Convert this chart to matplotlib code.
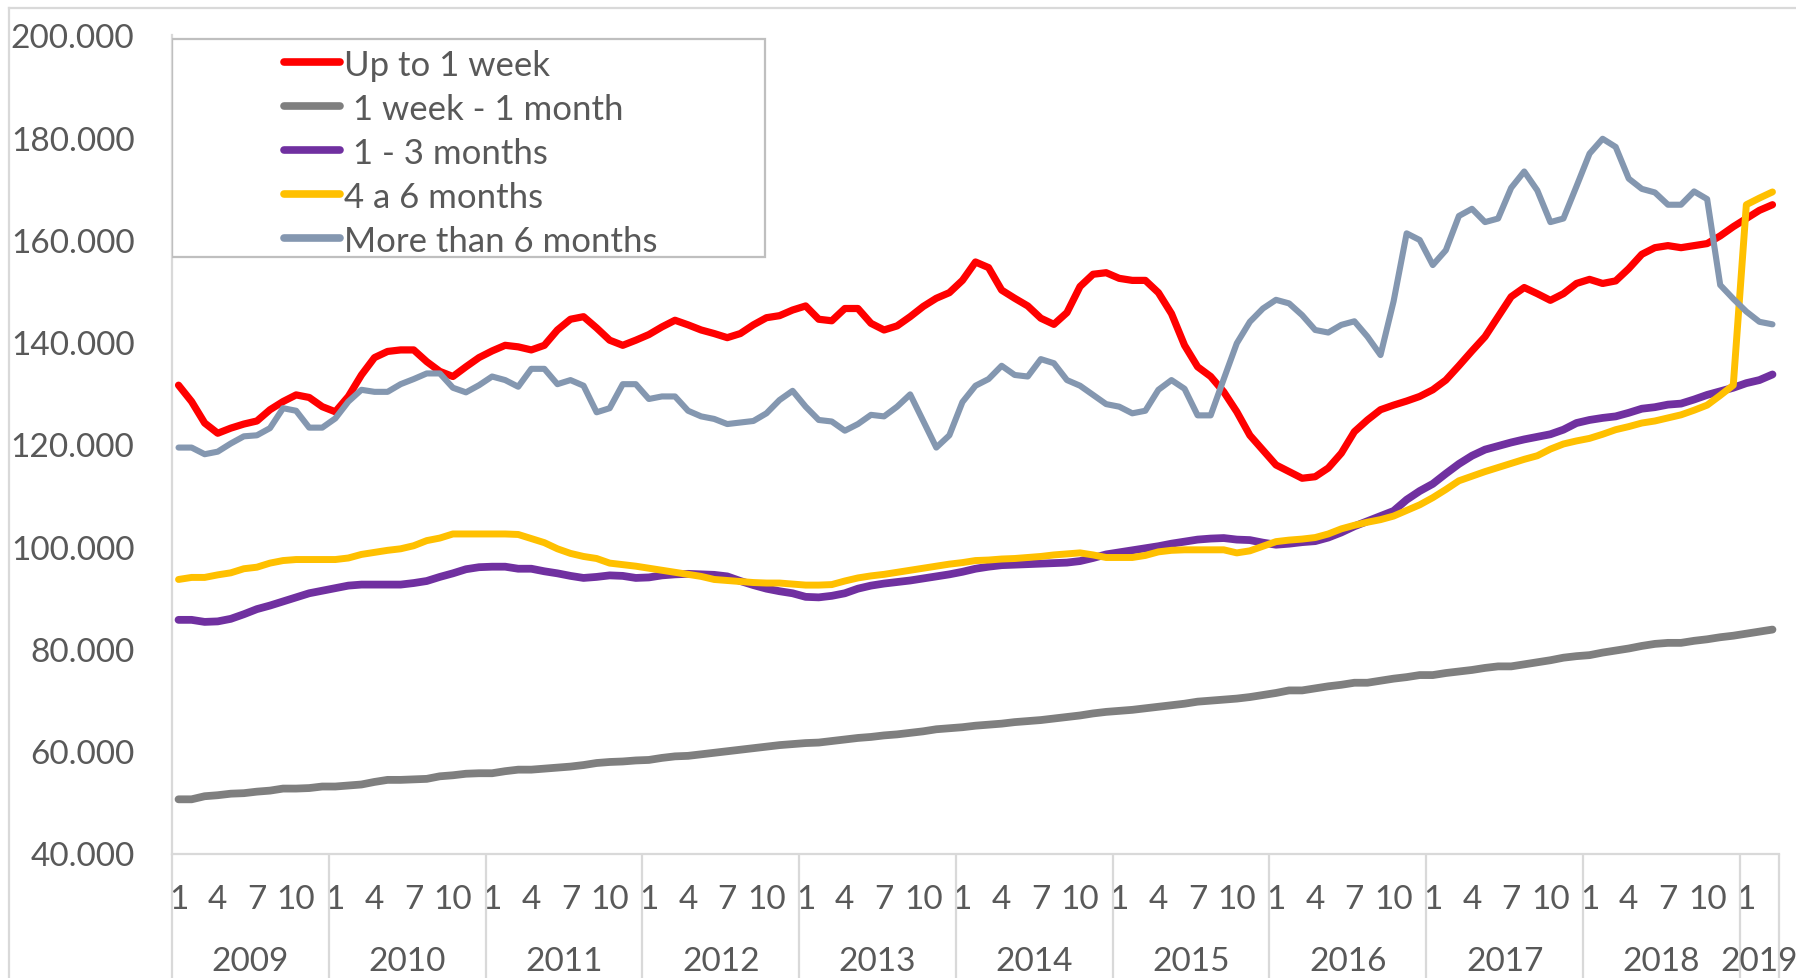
import numpy as np
import matplotlib.pyplot as plt
from matplotlib.patches import Rectangle
from matplotlib.lines import Line2D

plt.rcParams['font.family'] = ['Lato', 'DejaVu Sans']

# monthly series, 2009-01 .. 2019-03, values in thousands
years = ['2009', '2010', '2011', '2012', '2013', '2014', '2015', '2016', '2017', '2018', '2019']
months_per_year = [12, 12, 12, 12, 12, 12, 12, 12, 12, 12, 3]

up_to_1_week = [
    131.6, 128.4, 124.2, 122.2, 123.2, 124.0, 124.6, 126.8, 128.4, 129.7, 129.2, 127.4,
    126.4, 129.4, 133.6, 137.0, 138.2, 138.5, 138.5, 136.2, 134.3, 133.3, 135.2, 137.0,
    138.3, 139.4, 139.1, 138.5, 139.4, 142.4, 144.5, 145.0, 142.8, 140.4, 139.4, 140.4,
    141.5, 143.0, 144.3, 143.4, 142.4, 141.7, 140.9, 141.7, 143.4, 144.8, 145.2, 146.3,
    147.1, 144.5, 144.2, 146.6, 146.6, 143.7, 142.4, 143.2, 145.0, 147.0, 148.6, 149.7,
    152.1, 155.7, 154.6, 150.2, 148.6, 147.1, 144.7, 143.5, 145.8, 150.9, 153.3, 153.6,
    152.5, 152.1, 152.1, 149.7, 145.6, 139.4, 135.2, 133.3, 130.3, 126.4, 121.8, 118.9,
    116.0, 114.7, 113.4, 113.7, 115.4, 118.3, 122.5, 124.8, 126.8, 127.7, 128.5, 129.4,
    130.7, 132.6, 135.4, 138.3, 141.1, 145.0, 148.9, 150.7, 149.5, 148.2, 149.5, 151.5,
    152.3, 151.5, 152.0, 154.4, 157.2, 158.5, 158.9, 158.5, 158.9, 159.3, 160.8, 162.6,
    164.2, 165.8, 166.9,
]

week_to_month = [
    50.6, 50.6, 51.2, 51.4, 51.7, 51.8, 52.1, 52.3, 52.7, 52.7, 52.8, 53.1,
    53.1, 53.3, 53.5, 54.0, 54.4, 54.4, 54.5, 54.6, 55.1, 55.3, 55.6, 55.7,
    55.7, 56.1, 56.4, 56.4, 56.6, 56.8, 57.0, 57.3, 57.7, 57.9, 58.0, 58.2,
    58.3, 58.7, 59.0, 59.1, 59.4, 59.7, 60.0, 60.3, 60.6, 60.9, 61.2, 61.4,
    61.6, 61.7, 62.0, 62.3, 62.6, 62.8, 63.1, 63.3, 63.6, 63.9, 64.3, 64.5,
    64.7, 65.0, 65.2, 65.4, 65.7, 65.9, 66.1, 66.4, 66.7, 67.0, 67.4, 67.7,
    67.9, 68.1, 68.4, 68.7, 69.0, 69.3, 69.7, 69.9, 70.1, 70.3, 70.6, 71.0,
    71.4, 71.9, 71.9, 72.3, 72.7, 73.0, 73.4, 73.4, 73.8, 74.2, 74.5, 74.9,
    74.9, 75.3, 75.6, 75.9, 76.3, 76.6, 76.6, 77.0, 77.4, 77.8, 78.3, 78.6,
    78.8, 79.3, 79.7, 80.1, 80.6, 81.0, 81.2, 81.2, 81.6, 81.9, 82.3, 82.6,
    83.0, 83.4, 83.8,
]

one_to_three = [
    85.7, 85.7, 85.3, 85.4, 85.9, 86.8, 87.8, 88.5, 89.3, 90.1, 90.9, 91.4,
    91.9, 92.4, 92.6, 92.6, 92.6, 92.6, 92.9, 93.3, 94.1, 94.8, 95.6, 96.0,
    96.1, 96.1, 95.7, 95.7, 95.2, 94.8, 94.3, 93.9, 94.1, 94.4, 94.3, 93.9,
    94.0, 94.4, 94.6, 94.7, 94.6, 94.5, 94.2, 93.3, 92.5, 91.8, 91.3, 90.9,
    90.2, 90.1, 90.4, 90.9, 91.8, 92.4, 92.8, 93.1, 93.4, 93.8, 94.2, 94.6,
    95.1, 95.7, 96.1, 96.4, 96.5, 96.6, 96.7, 96.8, 96.9, 97.2, 97.8, 98.5,
    98.9, 99.3, 99.7, 100.1, 100.6, 101.0, 101.4, 101.6, 101.7, 101.4, 101.3, 100.8,
    100.4, 100.6, 100.9, 101.1, 101.8, 102.8, 104.0, 105.0, 106.0, 107.0, 109.2, 110.9,
    112.3, 114.3, 116.2, 117.8, 119.0, 119.7, 120.4, 121.0, 121.5, 122.0, 122.9, 124.2,
    124.8, 125.2, 125.5, 126.2, 127.0, 127.3, 127.8, 128.0, 128.8, 129.7, 130.4, 131.1,
    132.0, 132.6, 133.7,
]

four_to_six = [
    93.6, 94.0, 94.0, 94.5, 94.9, 95.7, 96.0, 96.8, 97.3, 97.5, 97.5, 97.5,
    97.5, 97.8, 98.5, 98.9, 99.3, 99.6, 100.2, 101.2, 101.7, 102.5, 102.5, 102.5,
    102.5, 102.5, 102.4, 101.6, 100.8, 99.6, 98.7, 98.1, 97.7, 96.8, 96.5, 96.2,
    95.8, 95.4, 95.0, 94.6, 94.2, 93.6, 93.4, 93.2, 93.0, 92.9, 92.9, 92.7,
    92.5, 92.5, 92.6, 93.3, 93.9, 94.3, 94.6, 95.0, 95.4, 95.8, 96.2, 96.6,
    96.9, 97.3, 97.4, 97.6, 97.7, 97.9, 98.1, 98.4, 98.6, 98.8, 98.4, 97.9,
    97.9, 97.9, 98.3, 99.0, 99.3, 99.4, 99.4, 99.4, 99.4, 98.8, 99.2, 100.1,
    101.0, 101.3, 101.5, 101.8, 102.5, 103.5, 104.2, 104.8, 105.3, 106.0, 107.1, 108.2,
    109.6, 111.2, 112.9, 113.8, 114.7, 115.5, 116.3, 117.1, 117.8, 119.1, 120.1, 120.7,
    121.2, 122.0, 122.9, 123.5, 124.2, 124.6, 125.2, 125.8, 126.7, 127.7, 129.6, 131.6,
    166.9, 168.2, 169.4,
]

more_than_six = [
    119.4, 119.4, 118.1, 118.6, 120.2, 121.6, 121.8, 123.2, 127.1, 126.6, 123.3, 123.3,
    125.1, 128.4, 130.7, 130.3, 130.3, 131.8, 132.8, 133.9, 133.9, 131.1, 130.2, 131.6,
    133.3, 132.6, 131.3, 134.8, 134.8, 131.8, 132.6, 131.5, 126.3, 127.1, 131.8, 131.8,
    128.9, 129.4, 129.4, 126.6, 125.5, 125.0, 124.0, 124.3, 124.6, 126.1, 128.7, 130.5,
    127.4, 124.8, 124.5, 122.7, 124.0, 125.8, 125.5, 127.4, 129.8, 124.6, 119.4, 121.8,
    128.3, 131.5, 132.8, 135.4, 133.6, 133.3, 136.7, 135.9, 132.6, 131.5, 129.7, 127.9,
    127.4, 126.1, 126.6, 130.7, 132.6, 130.9, 125.7, 125.7, 132.8, 139.8, 144.0, 146.6,
    148.3, 147.6, 145.3, 142.4, 141.9, 143.4, 144.1, 141.1, 137.5, 148.0, 161.3, 160.0,
    155.1, 158.0, 164.7, 166.1, 163.5, 164.2, 170.2, 173.4, 169.7, 163.5, 164.2, 170.5,
    176.9, 179.8, 178.2, 172.0, 170.0, 169.3, 166.9, 166.9, 169.5, 168.0, 151.2, 148.5,
    146.0, 144.0, 143.5,
]

labels = ['Up to 1 week', ' 1 week - 1 month', ' 1 - 3 months', '4 a 6 months', 'More than 6 months']
colors = ['#FF0000', '#7F7F7F', '#7030A0', '#FFC000', '#8497B0']
widths = [5.2, 5.6, 5.6, 5.0, 4.4]
series = [up_to_1_week, week_to_month, one_to_three, four_to_six, more_than_six]

txt = '#595959'
axis_col = '#D9D9D9'

fig = plt.figure(figsize=(17.96, 9.79), dpi=100)
ax = fig.add_axes([172 / 1796, 1 - 854.5 / 979, 1607 / 1796, 818 / 979])

n = len(up_to_1_week)
x = np.arange(n)
for vals, lab, c, w in zip(series, labels, colors, widths):
    ax.plot(x, vals, color=c, lw=w, label=lab, solid_joinstyle='round', solid_capstyle='round')

ax.set_xlim(-0.5, n - 0.5)
ax.set_ylim(40, 200)
ax.set_yticks(np.arange(40, 201, 20))
ax.set_yticklabels([f'{v:.3f}' for v in np.arange(40, 201, 20)])

# month ticks 1, 4, 7, 10
month_of = [m + 1 for cnt in months_per_year for m in range(cnt)]
tick_pos = [i for i in range(n) if month_of[i] in (1, 4, 7, 10)]
ax.set_xticks(tick_pos)
ax.set_xticklabels([str(month_of[i]) for i in tick_pos])
ax.tick_params(axis='both', length=0, labelsize=24, colors=txt)
ax.tick_params(axis='y', pad=27)
ax.tick_params(axis='x', pad=22)

for s in ['top', 'right']:
    ax.spines[s].set_visible(False)
for s in ['left', 'bottom']:
    ax.spines[s].set_color(axis_col)
    ax.spines[s].set_linewidth(1.6)

# year group labels and separators
start = 0
bounds = [0]
for yr, cnt in zip(years, months_per_year):
    ax.text(start + cnt / 2 - 0.5, -0.131, yr, transform=ax.get_xaxis_transform(),
            ha='center', va='center', fontsize=24, color=txt)
    start += cnt
    bounds.append(start)
ax.vlines([b - 0.5 for b in bounds], -0.17, 0, transform=ax.get_xaxis_transform(),
          colors=axis_col, lw=1.6, clip_on=False)

# legend with a wider box like the original
ax.add_patch(Rectangle((0, 0.729), 0.369, 0.2667, transform=ax.transAxes,
                       fill=False, ec='#BFBFBF', lw=1.6, zorder=5))
leg = ax.legend(loc='upper left', bbox_to_anchor=(0.0697, 0.984), frameon=False,
                fontsize=25, handlelength=1.6, handletextpad=0.12, labelspacing=0.345,
                borderpad=0, borderaxespad=0)
for t in leg.get_texts():
    t.set_color(txt)
for h in leg.get_lines():
    h.set_solid_capstyle('round')
    h.set_linewidth(5.5)

# outer chart border
fig.add_artist(Line2D([9 / 1796, 1], [1 - 9 / 979, 1 - 9 / 979], color=axis_col, lw=1.6))
fig.add_artist(Line2D([9 / 1796, 9 / 1796], [0, 1 - 9 / 979], color=axis_col, lw=1.6))

fig.savefig('out.png', dpi=100)
